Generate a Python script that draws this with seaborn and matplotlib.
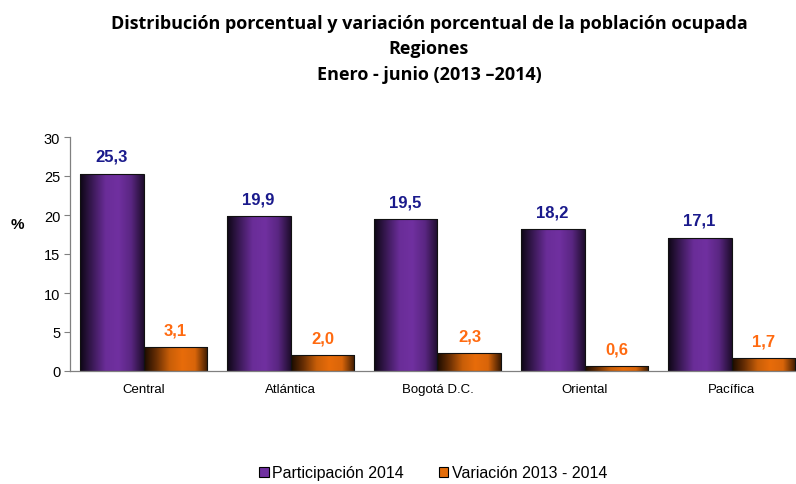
import numpy as np
import pandas as pd
import matplotlib.pyplot as plt
import seaborn as sns
from matplotlib.colors import LinearSegmentedColormap
from matplotlib.patches import Patch

regiones = ['Central', 'Atlántica', 'Bogotá D.C.', 'Oriental', 'Pacífica']
participacion = [25.3, 19.9, 19.5, 18.2, 17.1]
variacion = [3.1, 2.0, 2.3, 0.6, 1.7]
series = ['Participación 2014', 'Variación 2013 - 2014']

df = pd.DataFrame({
    'region': regiones * 2,
    'valor': participacion + variacion,
    'serie': [series[0]] * 5 + [series[1]] * 5,
})

sns.set_style('white')
plt.rcParams['font.family'] = ['Liberation Sans', 'DejaVu Sans']
plt.rcParams['text.color'] = 'black'
plt.rcParams['xtick.color'] = 'black'
plt.rcParams['ytick.color'] = 'black'
plt.rcParams['axes.labelcolor'] = 'black'

fig = plt.figure(figsize=(7.96, 4.85), dpi=100)
ax = fig.add_axes([70 / 796, 113 / 485, 735 / 796, 234 / 485])

sns.barplot(data=df, x='region', y='valor', hue='serie', ax=ax,
            palette=['#7030a0', '#e36c09'], width=0.87, legend=False)

# gradient shading on each bar
cmaps = [
    LinearSegmentedColormap.from_list('p', ['#0d0614', '#3c1a58', '#6a2d98', '#7030a0', '#5a2682', '#1e0d2c']),
    LinearSegmentedColormap.from_list('o', ['#1a0a00', '#6b3004', '#c85e08', '#e86c0a', '#d9650a', '#3a1a02']),
]
grad = np.linspace(0, 1, 256).reshape(1, -1)
for cont, cm in zip(ax.containers, cmaps):
    for p in cont.patches:
        x0, y0 = p.get_x(), p.get_y()
        w, h = p.get_width(), p.get_height()
        im = ax.imshow(grad, cmap=cm, aspect='auto', extent=[x0, x0 + w, y0, y0 + h],
                       zorder=1, interpolation='bicubic')
        im.set_clip_path(p)
        p.set_facecolor('none')
        p.set_edgecolor('#111111')
        p.set_linewidth(0.8)
        p.set_zorder(2)

fmt = lambda v: f'{v:.1f}'.replace('.', ',')
ax.bar_label(ax.containers[0], fmt=fmt, padding=7, color='#1a1a8c',
             fontweight='bold', fontsize=12)
ax.bar_label(ax.containers[1], fmt=fmt, padding=7, color='#ff6a10',
             fontweight='bold', fontsize=12)

ax.set_xlim(-0.5, 4.5)
ax.set_ylim(0, 30)
ax.set_yticks(range(0, 31, 5))
ax.set_xticks(range(5))
ax.set_xticks(np.arange(-0.5, 5, 1), minor=True)
ax.tick_params(axis='x', which='major', length=0, pad=9, labelsize=9.5)
ax.tick_params(axis='x', which='minor', length=4, color='#808080', width=0.8)
ax.tick_params(axis='y', length=4, color='#808080', labelcolor='black', width=0.8,
               labelsize=10.5, pad=3, left=True)
ax.set_xlabel('')
ax.set_ylabel('%', rotation=0, fontweight='bold', fontsize=11, labelpad=30)
ax.yaxis.set_label_coords(-0.071, 0.6)
for s in ['top', 'right']:
    ax.spines[s].set_visible(False)
for s in ['left', 'bottom']:
    ax.spines[s].set_color('#808080')
    ax.spines[s].set_linewidth(0.9)

fig.text(429 / 796, 0.97, 'Distribución porcentual y variación porcentual de la población ocupada\nRegiones\nEnero - junio (2013 –2014)',
         ha='center', va='top', fontsize=13, fontweight='bold', family='Open Sans',
         linespacing=1.55, color='black')

handles = [Patch(facecolor='#7030a0', edgecolor='black', linewidth=0.8),
           Patch(facecolor='#e36c09', edgecolor='black', linewidth=0.8)]
fig.legend(handles, series, loc='lower center', bbox_to_anchor=(433 / 796, -0.022), ncol=2,
           frameon=False, fontsize=11.5, handlelength=0.6, handleheight=0.6,
           handletextpad=0.2, columnspacing=2.2)

fig.savefig('out.png', dpi=100)
